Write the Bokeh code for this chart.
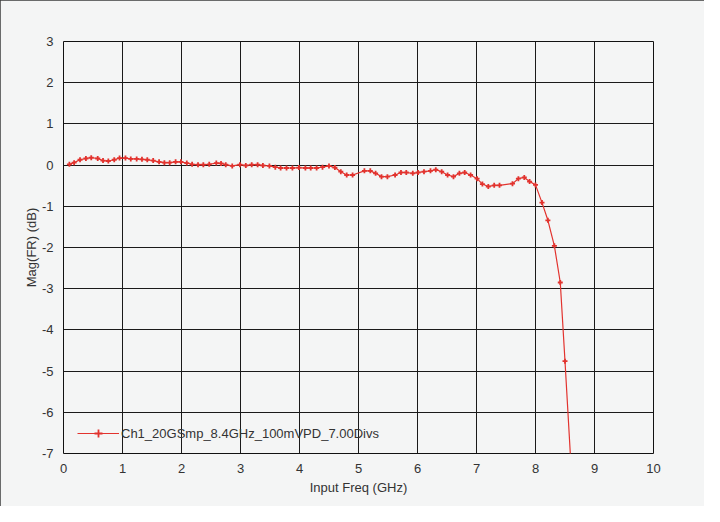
from bokeh.plotting import figure
from bokeh.embed import file_html
from bokeh.resources import INLINE
from bokeh.models import FixedTicker, Legend, LegendItem, PrintfTickFormatter

freq_ghz = [0.10, 0.18, 0.28, 0.38, 0.47, 0.58, 0.67, 0.76, 0.86, 0.95,
            1.05, 1.14, 1.24, 1.33, 1.42, 1.52, 1.62, 1.71, 1.80, 1.90,
            1.99, 2.09, 2.18, 2.28, 2.37, 2.47, 2.59, 2.67, 2.75, 2.86,
            2.99, 3.09, 3.19, 3.29, 3.38, 3.49, 3.59, 3.68, 3.78, 3.88,
            3.99, 4.10, 4.19, 4.29, 4.39, 4.50, 4.60, 4.70, 4.80, 4.90,
            5.10, 5.20, 5.29, 5.39, 5.49, 5.62, 5.72, 5.81, 5.92, 6.01,
            6.11, 6.22, 6.31, 6.41, 6.51, 6.61, 6.71, 6.80, 6.90, 7.01,
            7.10, 7.20, 7.30, 7.39, 7.61, 7.71, 7.81, 7.90, 8.00, 8.11,
            8.21, 8.32, 8.42, 8.50, 8.61]
mag_db = [0.02, 0.06, 0.13, 0.16, 0.18, 0.16, 0.11, 0.10, 0.13, 0.17,
          0.17, 0.15, 0.15, 0.14, 0.13, 0.11, 0.08, 0.06, 0.06, 0.08,
          0.08, 0.05, 0.02, 0.01, 0.01, 0.02, 0.05, 0.04, 0.01, -0.02,
          0.01, -0.01, 0.01, 0.01, -0.01, -0.02, -0.05, -0.07, -0.07, -0.07,
          -0.06, -0.07, -0.07, -0.07, -0.05, -0.02, -0.06, -0.16, -0.24, -0.24,
          -0.14, -0.14, -0.20, -0.28, -0.28, -0.24, -0.18, -0.18, -0.20, -0.18,
          -0.16, -0.14, -0.11, -0.16, -0.24, -0.28, -0.20, -0.18, -0.24, -0.33,
          -0.46, -0.52, -0.49, -0.49, -0.45, -0.33, -0.30, -0.40, -0.48, -0.91,
          -1.34, -1.96, -2.85, -4.76, -7.50]
x_ticks = [0, 1, 2, 3, 4, 5, 6, 7, 8, 9, 10]
y_ticks = [3, 2, 1, 0, -1, -2, -3, -4, -5, -6, -7]
series_name = "Ch1_20GSmp_8.4GHz_100mVPD_7.00Divs"

BG = "#f4f5f5"
RED = "#e2332e"
TXT = "#333333"
FONT = "Liberation Sans Narrow, Liberation Sans, Arial, sans-serif"

p = figure(width=704, height=506, output_backend="svg", toolbar_location=None,
           x_range=(0, 10), y_range=(-7, 3),
           min_border_left=63, min_border_right=51, min_border_top=41, min_border_bottom=53,
           background_fill_color=BG, border_fill_color=BG)
p.styles = {"outline": "2px solid #3c3c3c", "outline-offset": "-2px"}

p.outline_line_color = "#111111"
p.outline_line_width = 1

for ax, ticks in ((p.xaxis[0], x_ticks), (p.yaxis[0], y_ticks)):
    ax.ticker = FixedTicker(ticks=ticks)
    ax.formatter = PrintfTickFormatter(format="%d")
    ax.axis_line_color = None
    ax.major_tick_line_color = None
    ax.minor_tick_line_color = None
    ax.major_label_text_font = FONT
    ax.major_label_text_font_size = "13px"
    ax.major_label_text_color = TXT
    ax.axis_label_text_font = FONT
    ax.axis_label_text_font_size = "13px"
    ax.axis_label_text_font_style = "normal"
    ax.axis_label_text_color = TXT
p.xaxis.axis_label = "Input Freq (GHz)"
p.yaxis.axis_label = "Mag(FR) (dB)"
p.xaxis.major_label_standoff = 4
p.yaxis.major_label_standoff = 4
p.xaxis.axis_label_standoff = 4
p.yaxis.axis_label_standoff = 0

p.xgrid.ticker = FixedTicker(ticks=x_ticks)
p.ygrid.ticker = FixedTicker(ticks=y_ticks)
for g in (p.xgrid[0], p.ygrid[0]):
    g.grid_line_color = "#1a1a1a"
    g.grid_line_width = 1

ln = p.line(freq_ghz, mag_db, line_color=RED, line_width=1.2)
mk = p.scatter(freq_ghz, mag_db, marker="cross", size=5, line_color=RED, line_width=1.8)

legend = Legend(items=[LegendItem(label=series_name, renderers=[ln, mk])],
                location=(14, 10), padding=0, margin=0, spacing=0,
                border_line_alpha=0, background_fill_alpha=0,
                glyph_width=42, glyph_height=20, label_standoff=2,
                label_text_font=FONT, label_text_font_size="13px",
                label_text_color=TXT)
p.add_layout(legend)

open("out.html", "w").write(file_html(p, INLINE))
